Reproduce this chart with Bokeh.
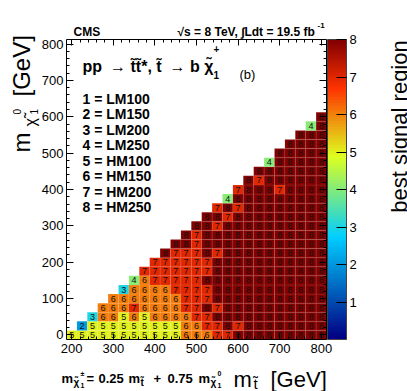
import math
import numpy as np
from bokeh.plotting import figure
from bokeh.models import (ColumnDataSource, LinearColorMapper, ColorBar, FixedTicker,
                          LinearAxis, Label, Range1d)
from bokeh.core.properties import value
from bokeh.transform import transform
from bokeh.embed import file_html
from bokeh.resources import INLINE

# ---------------- data ----------------
m_stop_first = 200          # GeV, first stop-mass column
bin_width = 25              # GeV
m_lsp_rows = list(range(0, 601, 25))
# best signal region in each m_LSP row, from m_stop = 200 + m_LSP up to 800 GeV
sr_row_000 = [5,5,5,5,5,5,5,5,5,5,5,6,6,6,7,7,8,8,8,8,8,8,8,8,8]
sr_row_025 = [2,5,5,5,5,5,5,5,5,5,6,6,7,7,8,7,8,8,8,8,8,8,8,8]
sr_row_050 = [3,6,6,5,6,5,6,6,6,6,7,7,8,8,8,8,8,8,8,8,8,8,8]
sr_row_075 = [6,6,6,7,6,6,6,6,7,7,8,7,8,8,8,8,8,8,8,8,8,8]
sr_row_100 = [6,6,6,6,6,6,6,7,7,7,8,8,8,8,8,8,8,8,8,8,8]
sr_row_125 = [3,6,6,6,6,7,7,7,7,8,8,8,8,8,8,8,8,8,8,8]
sr_row_150 = [4,6,7,7,7,7,7,8,8,8,8,8,8,8,8,8,8,8,8]
sr_row_175 = [7,7,7,7,7,7,7,8,8,8,8,8,8,8,8,8,8,8]
sr_row_200 = [7,7,7,7,7,7,8,8,8,8,8,8,8,8,8,8,8]
sr_row_225 = [8,7,7,7,8,7,8,8,8,8,8,8,8,8,8,8]
sr_row_250 = [8,8,7,8,8,8,8,8,8,8,8,8,8,8,8]
sr_row_275 = [8,7,8,8,8,8,8,8,8,8,8,8,8,8]
sr_row_300 = [8,8,7,8,8,8,8,8,8,8,8,8,8]
sr_row_325 = [8,8,7,8,8,8,8,8,8,8,8,8]
sr_row_350 = [7,8,7,8,8,8,8,8,8,8,8]
sr_row_375 = [4,8,8,8,8,8,8,8,8,8]
sr_row_400 = [7,8,8,8,7,8,8,8,8]
sr_row_425 = [8,7,8,8,8,8,8,8]
sr_row_450 = [8,8,8,8,8,8,8]
sr_row_475 = [4,8,8,8,8,8]
sr_row_500 = [8,8,8,8,8]
sr_row_525 = [8,8,8,8]
sr_row_550 = [8,8,8]
sr_row_575 = [4,8]
sr_row_600 = [8]
sr_rows = [sr_row_000, sr_row_025, sr_row_050, sr_row_075, sr_row_100, sr_row_125,
           sr_row_150, sr_row_175, sr_row_200, sr_row_225, sr_row_250, sr_row_275,
           sr_row_300, sr_row_325, sr_row_350, sr_row_375, sr_row_400, sr_row_425,
           sr_row_450, sr_row_475, sr_row_500, sr_row_525, sr_row_550, sr_row_575,
           sr_row_600]
region_names = ["LM100", "LM150", "LM200", "LM250", "HM100", "HM150", "HM200", "HM250"]
x_ticks = [200, 300, 400, 500, 600, 700, 800]
y_ticks = [0, 100, 200, 300, 400, 500, 600, 700, 800]
z_ticks = [1, 2, 3, 4, 5, 6, 7, 8]

# --------------- build table ---------------
xs, ys, zs = [], [], []
for m_lsp, row in zip(m_lsp_rows, sr_rows):
    for i, z in enumerate(row):
        xs.append(m_stop_first + m_lsp + i * bin_width)
        ys.append(m_lsp)
        zs.append(z)
src = ColumnDataSource(dict(x=xs, y=ys, z=zs, label=[str(z) for z in zs]))

# ROOT-like gradient palette
stops = [0.00, 0.34, 0.61, 0.84, 1.00]
red = [0.00, 0.00, 0.87, 1.00, 0.51]
green = [0.00, 0.81, 1.00, 0.20, 0.00]
blue = [0.51, 1.00, 0.12, 0.00, 0.00]
NCOL = 100
tt = np.linspace(0, 1, NCOL)
palette = ["#%02x%02x%02x" % (int(round(255 * np.interp(t, stops, red))),
                              int(round(255 * np.interp(t, stops, green))),
                              int(round(255 * np.interp(t, stops, blue)))) for t in tt]
mapper = LinearColorMapper(palette=palette, low=0, high=8)

# ---------------- layout ----------------
W, H = 407, 391
XR = (187.5, 812.5)          # histogram x extent
YR = (-12.5, 812.5)          # histogram y extent
FX0, FX1, FY0, FY1 = 66.0, 326.0, 339.0, 39.0   # where the histogram box sits (px)
KX = (XR[1] - XR[0]) / (FX1 - FX0)
KY = (YR[1] - YR[0]) / (FY0 - FY1)
x_full = (XR[0] - FX0 * KX, XR[0] + (W - FX0) * KX)
y_full = (YR[0] - (H - FY0) * KY, YR[0] + FY0 * KY)

def dx(px):
    return XR[0] + (px - FX0) * KX
def dy(py):
    return YR[0] + (FY0 - py) * KY

FONT = "Liberation Sans"

p = figure(width=W, height=H, x_range=Range1d(*x_full), y_range=Range1d(*y_full),
           output_backend="svg", toolbar_location=None, min_border=0,
           x_axis_location=None, y_axis_location=None,
           background_fill_color="white", border_fill_color="white")
p.title.visible = False
p.grid.visible = False
p.outline_line_color = None

p.rect(x="x", y="y", width=bin_width, height=bin_width, source=src,
       fill_color=transform("z", mapper), line_color="white", line_alpha=0.15, line_width=0.5)
p.text(x="x", y="y", text="label", source=src, text_align="center", text_baseline="middle",
       text_font=value(FONT), text_font_size=value("9px"), text_font_style="normal",
       text_color="#111111")

def make_axis(ticks, minor, tick_len, loc, bounds, show_labels=True):
    ax = LinearAxis(ticker=FixedTicker(ticks=ticks, minor_ticks=minor),
                    fixed_location=loc, bounds=bounds)
    ax.major_tick_in = tick_len
    ax.major_tick_out = 0
    ax.minor_tick_in = tick_len // 2
    ax.minor_tick_out = 0
    ax.axis_line_color = "black"
    ax.major_tick_line_color = "black"
    ax.minor_tick_line_color = "black"
    ax.major_label_text_font = FONT
    ax.major_label_text_color = "black"
    if show_labels:
        ax.major_label_text_font_size = "13px"
        ax.major_label_standoff = 4
    else:
        ax.major_label_text_font_size = "0px"
        ax.major_label_standoff = 0
    return ax

x_minor = list(range(200, 801, 20))
y_minor = list(range(0, 801, 20))
p.add_layout(make_axis(x_ticks, x_minor, 6, YR[0], XR), "below")
left_ax = make_axis(y_ticks, y_minor, 7, XR[0], YR)
left_ax.major_label_standoff = 3
p.add_layout(left_ax, "left")
p.add_layout(make_axis(x_ticks, x_minor, 6, YR[1], XR, show_labels=False), "above")
p.add_layout(make_axis(y_ticks, y_minor, 7, XR[1], YR, show_labels=False), "right")

cb = ColorBar(color_mapper=mapper, ticker=FixedTicker(ticks=z_ticks), width=19, height=300,
              location=(327, H - FY0), padding=0, margin=0, label_standoff=3,
              major_label_text_font=FONT, major_label_text_font_size="13px",
              major_label_text_color="black",
              major_tick_in=10, major_tick_out=0, major_tick_line_color="black",
              minor_tick_line_color=None, bar_line_color="#444444",
              background_fill_color=None, border_line_color=None)
p.add_layout(cb)

def txt(px, py, s, size, bold=False, align="left", angle=0.0, baseline="alphabetic"):
    p.add_layout(Label(x=dx(px), y=dy(py), text=s, text_font=FONT,
                       text_font_size="%gpx" % size,
                       text_font_style="bold" if bold else "normal",
                       text_color="black", text_align=align, text_baseline=baseline,
                       angle=angle))

T = "\u0303"    # combining tilde
EN = "\u2002"   # en space
txt(73, 31, "CMS", 12, bold=True)
txt(177, 31, "\u221As = 8 TeV, \u222BLdt = 19.5 fb", 12, bold=True)
txt(317, 25, "-1", 8, bold=True)
txt(82, 66, "pp" + EN + "\u2192 t" + T + "t" + T + "*, t" + T + EN + "\u2192 b \u03C7" + T,
    16, bold=True)
txt(213, 48, "+", 10, bold=True)
txt(213, 74, "1", 10, bold=True)
txt(239, 74, "(b)", 13)
for i, name in enumerate(region_names):
    txt(82, 98 + i * 15.57, "%d = %s" % (i + 1, name), 14, bold=True)

# y axis title (rotated)
A = math.pi / 2
txt(21, 152, "m", 24, angle=A)
txt(30, 126, "\u03C7" + T, 16, angle=A)
txt(16, 114, "0", 10, angle=A)
txt(33, 114, "1", 10, angle=A)
txt(21, 96, "[GeV]", 24, angle=A)

# x axis title
txt(233, 379, "m", 22)
txt(253, 383, "t" + T, 15)
txt(270, 379, "[GeV]", 22)

# colour bar title
txt(399, 126, "best signal region", 22, align="center", angle=A)

# mass relation
txt(61, 378, "m", 13, bold=True)
txt(73, 382, "\u03C7" + T, 10, bold=True)
txt(80, 373, "\u00B1", 7, bold=True)
txt(80, 385, "1", 7, bold=True)
txt(86, 378, "=", 13, bold=True)
txt(98, 378, "0.25", 13, bold=True)
txt(128, 378, "m", 13, bold=True)
txt(140, 382, "t" + T, 10, bold=True)
txt(153, 378, "+", 13, bold=True)
txt(167, 378, "0.75", 13, bold=True)
txt(198, 378, "m", 13, bold=True)
txt(210, 382, "\u03C7" + T, 10, bold=True)
txt(217, 373, "0", 7, bold=True)
txt(217, 385, "1", 7, bold=True)

open("out.html", "w").write(file_html(p, INLINE))
